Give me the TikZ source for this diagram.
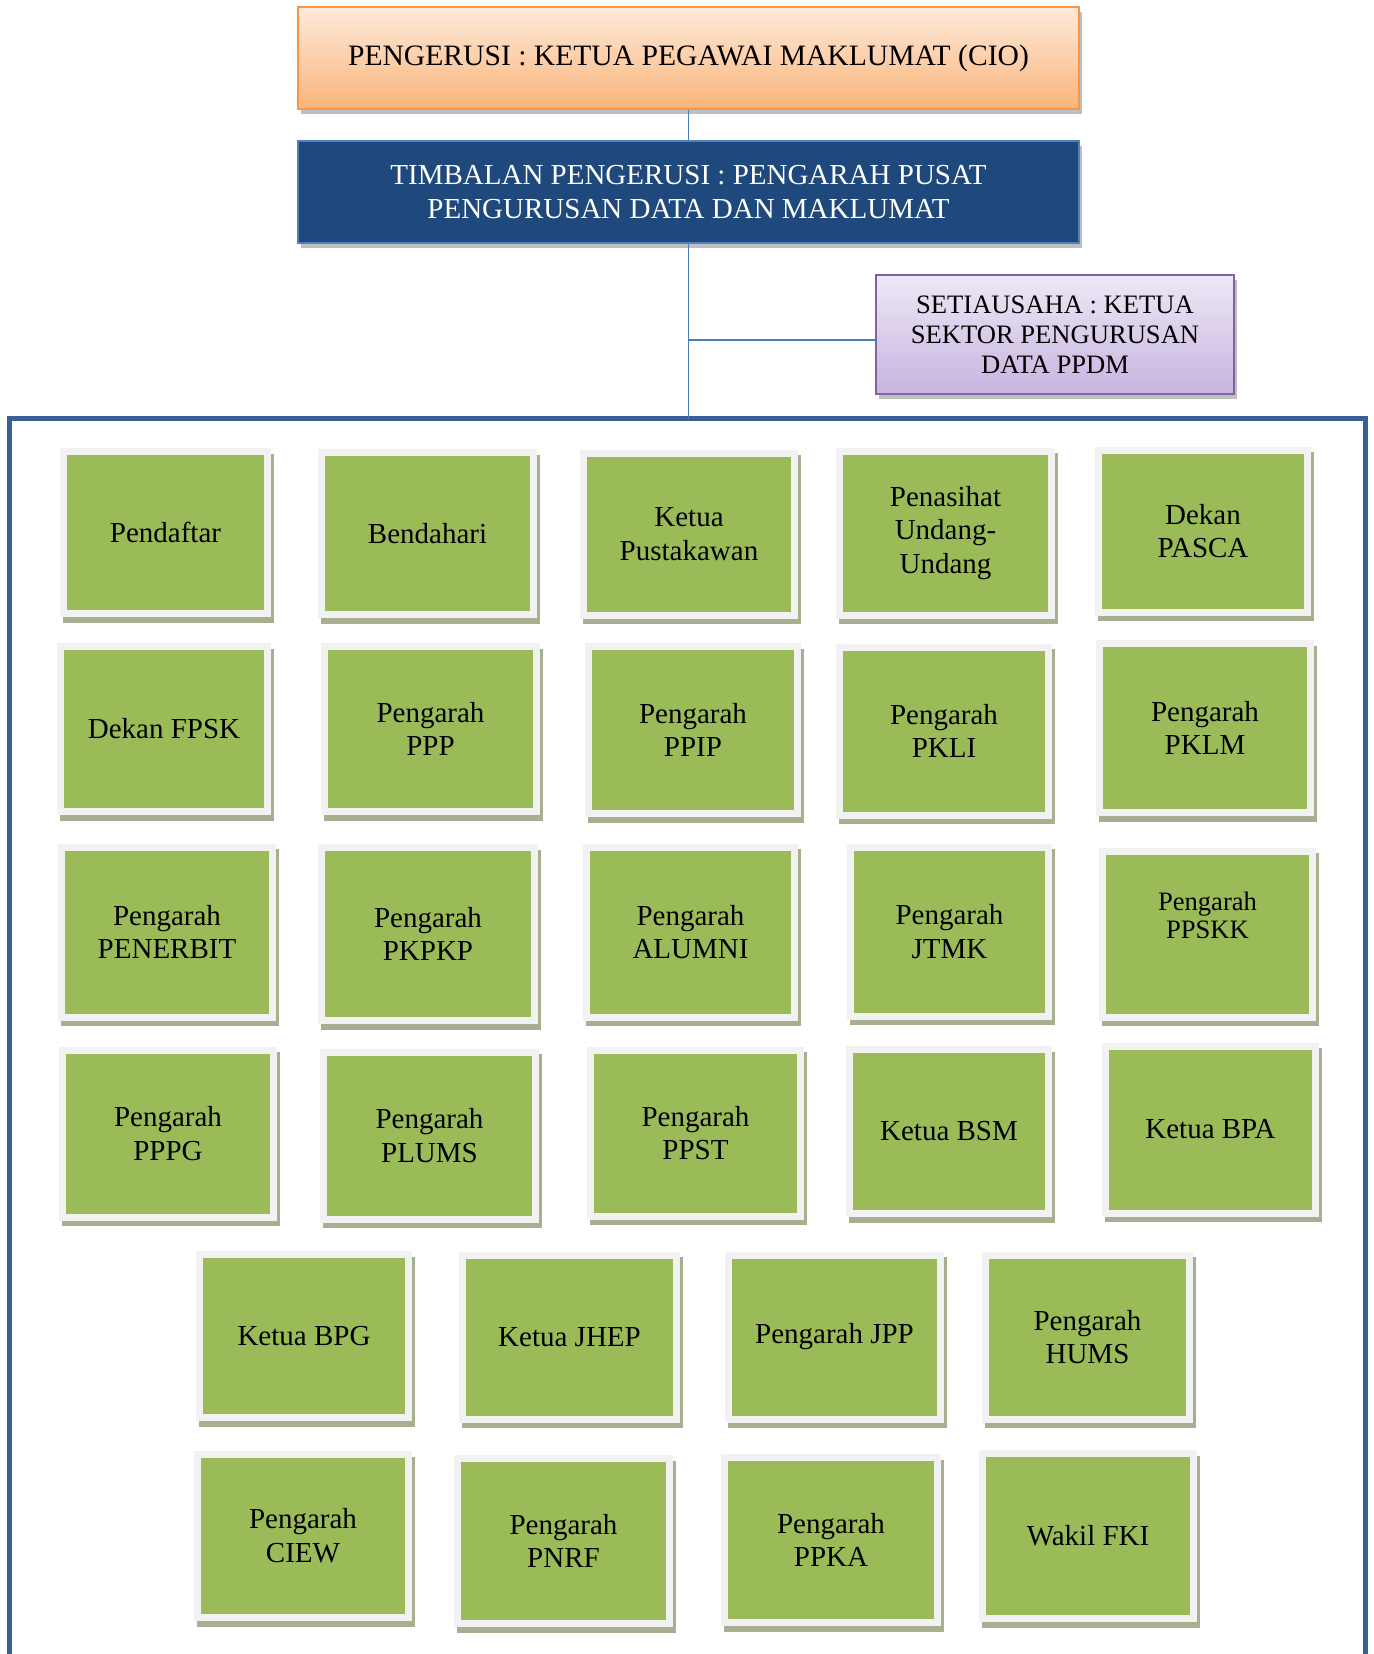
\documentclass[tikz,border=0pt]{standalone}
\usepackage{fontspec}
\setmainfont{Liberation Serif}
\usetikzlibrary{shadows}
\definecolor{gfill}{HTML}{9BBB59}
\definecolor{gframe}{HTML}{F2F2F2}
\definecolor{gshadow}{RGB}{168,175,145}
\definecolor{orgtop}{HTML}{FEEADB}
\definecolor{orgbot}{HTML}{FAB47A}
\definecolor{orgdraw}{HTML}{F79646}
\definecolor{navy}{HTML}{1F497D}
\definecolor{navydraw}{HTML}{4F81BD}
\definecolor{purtop}{HTML}{EEE8F6}
\definecolor{purbot}{HTML}{C7B4E0}
\definecolor{purdraw}{HTML}{8064A2}
\definecolor{conn}{HTML}{4A7EBB}
\definecolor{contc}{HTML}{3A5F94}
\tikzset{
  gbox/.style={fill=gframe, inner sep=0pt, align=center,
    font=\fontsize{14.5}{16.9}\selectfont,
    general shadow={fill=gshadow, shadow xshift=1.5pt, shadow yshift=-2.75pt},
    path picture={\fill[gfill] ([xshift=3.5pt,yshift=3.5pt]path picture bounding box.south west) rectangle ([xshift=-3.5pt,yshift=-3.5pt]path picture bounding box.north east);}},
  headbox/.style={inner sep=0pt, align=center, line width=1pt,
    font=\fontsize{14.5}{16.9}\selectfont,
    general shadow={fill=black, opacity=0.25, shadow xshift=1.5pt, shadow yshift=-2.5pt}},
  connline/.style={draw=conn, line width=0.8pt},
  container/.style={draw=contc, line width=2.5pt}
}
\newcommand\gbx[6]{\node[gbox, minimum width=#4*0.5pt, minimum height=#5*0.5pt] (#1) at (#2,#3) {#6};}
\begin{document}
\begin{tikzpicture}[x=0.5pt,y=-0.5pt]
\useasboundingbox (0,0) rectangle (1373,1654);
% header boxes
\node[headbox, draw=orgdraw, top color=orgtop, bottom color=orgbot,
  font=\fontsize{14.8}{17}\selectfont,
  minimum width=390.5pt, minimum height=51pt] (cio) at (688.5,58)
  {PENGERUSI : KETUA PEGAWAI MAKLUMAT (CIO)};
\node[headbox, draw=navydraw, fill=navy, text=white,
  minimum width=390.5pt, minimum height=51pt] (timb) at (688.5,192)
  {TIMBALAN PENGERUSI : PENGARAH PUSAT\\PENGURUSAN DATA DAN MAKLUMAT};
\node[headbox, draw=purdraw, top color=purtop, bottom color=purbot,
  font=\fontsize{13.3}{15}\selectfont,
  minimum width=179pt, minimum height=59.5pt] (setia) at (1055,334.5)
  {SETIAUSAHA : KETUA\\SEKTOR PENGURUSAN\\DATA PPDM};
% container
\coordinate (ctop) at (688.5,418.5);
\coordinate (branch) at (688.5,340);
\draw[container] (9.5,1670) -- (9.5,418.5) -- (1365,418.5) -- (1365,1670);
% connectors
\draw[connline] (cio.south) -- (timb.north);
\draw[connline] (timb.south) -- (ctop);
\draw[connline] (branch) -- (branch -| setia.west);
% row 1
\gbx{pendaftar}{165.5}{532.5}{211}{169}{Pendaftar}
\gbx{bendahari}{427.5}{533.5}{219}{169}{Bendahari}
\gbx{pustakawan}{689}{534}{218}{169}{Ketua\\Pustakawan}
\gbx{penasihat}{945.5}{533}{219}{171}{Penasihat\\Undang-\\Undang}
\gbx{pasca}{1203}{531}{216}{169}{Dekan\\PASCA}
% row 2
\gbx{fpsk}{164}{729}{214}{172}{Dekan FPSK}
\gbx{ppp}{430.5}{729}{219}{172}{Pengarah\\PPP}
\gbx{ppip}{693}{730}{216}{174}{Pengarah\\PPIP}
\gbx{pkli}{944}{731}{216}{175}{Pengarah\\PKLI}
\gbx{pklm}{1205}{728}{218}{176}{Pengarah\\PKLM}
% row 3
\gbx{penerbit}{167}{932}{218}{177}{Pengarah\\PENERBIT}
\gbx{pkpkp}{428}{934}{220}{180}{Pengarah\\PKPKP}
\gbx{alumni}{690.5}{932}{215}{177}{Pengarah\\ALUMNI}
\gbx{jtmk}{949.5}{931.5}{205}{176}{Pengarah\\JTMK}
\node[gbox, minimum width=108.5pt, minimum height=86.5pt] (ppskk) at (1207.5,934)
  {}; \node[align=center, font=\fontsize{13.3}{14.3}\selectfont] (ppskkt) at (1207.5,915.5) {Pengarah\\PPSKK};
% row 4
\gbx{pppg}{168}{1133.5}{218}{174}{Pengarah\\PPPG}
\gbx{plums}{429.5}{1135.5}{219}{174}{Pengarah\\PLUMS}
\gbx{ppst}{695.5}{1133}{217}{173}{Pengarah\\PPST}
\gbx{bsm}{949}{1131.5}{206}{171}{Ketua BSM}
\gbx{bpa}{1210.5}{1129.5}{217}{174}{Ketua BPA}
% row 5
\gbx{bpg}{304}{1336}{216}{170}{Ketua BPG}
\gbx{jhep}{569.5}{1337}{221}{171}{Ketua JHEP}
\gbx{jpp}{834.5}{1337}{219}{171}{Pengarah JPP}
\gbx{hums}{1087.5}{1337}{211}{171}{Pengarah\\HUMS}
% row 6
\gbx{ciew}{303}{1536}{218}{170}{Pengarah\\CIEW}
\gbx{pnrf}{563.5}{1541}{219}{172}{Pengarah\\PNRF}
\gbx{ppka}{831}{1540}{220}{172}{Pengarah\\PPKA}
\gbx{wakil}{1088}{1536}{218}{172}{Wakil FKI}
\end{tikzpicture}
\end{document}
